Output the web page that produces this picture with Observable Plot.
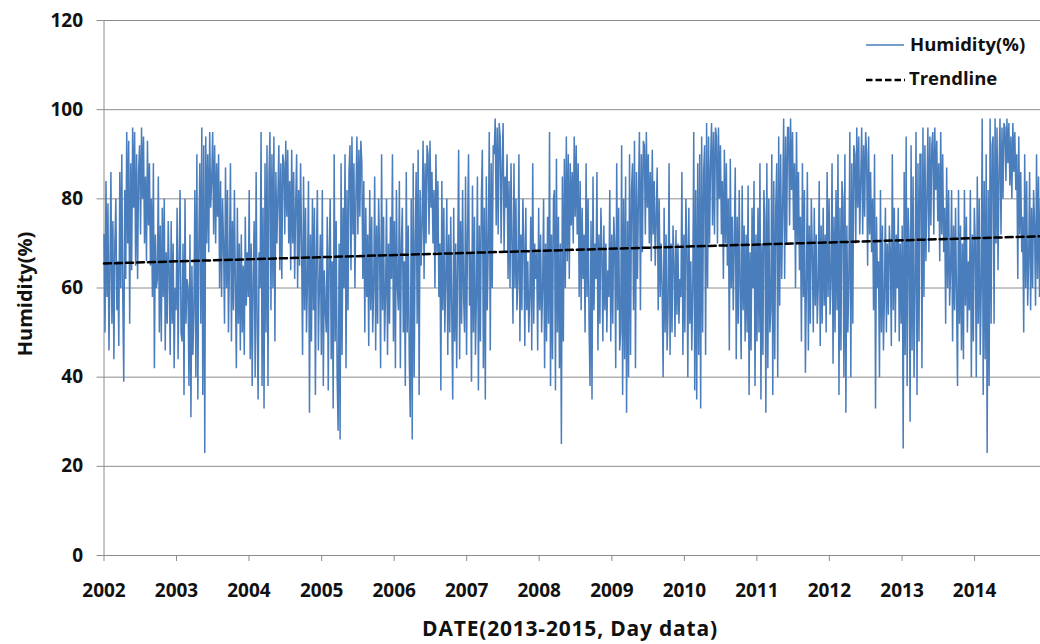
<!DOCTYPE html>
<html><head><meta charset="utf-8">
<script src="https://cdn.jsdelivr.net/npm/d3@7"></script>
<script src="https://cdn.jsdelivr.net/npm/@observablehq/plot@0.6"></script>
<style>
html,body{margin:0;padding:0;background:#fff;}
#wrap{position:relative;width:1040px;height:644px;overflow:hidden;}
#overlay{position:absolute;left:0;top:0;pointer-events:none;}
</style></head><body>
<div id="wrap"></div>
<script>
// Humidity (%), about 6 readings per month (Dec: 7)
const h2002 = [72,50,84,58,79,46, 63,86,52,75,44,70, 80,55,66,47,86,60, 90,58,39,82,62,95, 70,93,52,88,64,96, 78,95,65,90,62,86,
  92,72,96,80,94,70, 85,66,93,74,88,65, 80,58,88,42,72,60, 62,85,50,74,48,78, 58,80,46,68,52,75, 64,45,75,52,70,42,60];
const h2003 = [55,78,44,66,82,50, 48,70,36,80,52,62, 60,38,72,31,65,45, 55,82,40,90,35,70, 88,52,96,36,92,23, 94,70,90,68,95,78,
  84,95,72,92,70,88, 76,90,60,84,58,80, 70,52,87,60,82,50, 66,88,48,75,55,82, 60,42,78,52,70,46, 72,50,65,45,76,56,68];
const h2004 = [58,82,44,70,38,62, 75,40,86,52,35,68, 60,95,38,78,33,88, 50,92,38,85,95,55, 90,60,94,48,86,70, 80,92,64,88,62,90,
  88,72,93,76,91,70, 84,64,91,70,86,62, 78,90,60,82,65,88, 70,45,85,55,78,50, 62,84,32,72,48,80, 55,78,36,68,82,46,60];
const h2005 = [72,45,82,38,64,55, 50,76,37,68,80,44, 66,33,90,48,75,40, 28,70,26,88,45,78, 60,90,42,82,55,86, 92,64,94,72,88,60,
  80,94,72,91,76,93, 88,62,84,50,78,58, 72,47,82,55,76,50, 60,85,46,74,52,80, 68,42,90,55,76,48, 58,80,45,70,52,76,62];
const h2006 = [90,48,75,42,82,60, 55,84,42,70,78,50, 66,38,86,50,74,44, 31,80,26,88,40,70, 86,52,91,36,82,65, 74,93,62,88,70,92,
  90,72,93,78,86,70, 82,60,90,68,84,58, 70,37,84,55,78,50, 62,80,45,72,50,76, 55,35,78,48,70,42, 66,91,44,75,52,82,58];
const h2007 = [50,85,45,72,90,56, 68,39,83,50,76,45, 58,85,37,74,48,80, 91,42,78,35,85,55, 70,95,46,88,60,92, 90,98,74,96,72,97,
  94,70,88,97,68,85, 78,90,62,84,60,88, 70,52,88,60,80,55, 62,90,48,72,55,80, 70,47,78,55,66,50, 58,76,46,88,52,70,62];
const h2008 = [68,46,78,55,72,50, 60,80,42,70,48,76, 52,95,38,72,44,80, 82,37,89,50,76,42, 70,25,85,48,89,60, 94,66,90,62,88,74,
  86,70,94,76,92,72, 88,58,84,55,78,62, 72,50,88,58,80,52, 38,75,35,85,55,70, 62,86,46,72,52,78, 68,48,74,55,70,50,64];
const h2009 = [58,82,48,72,52,76, 70,42,88,55,78,46, 50,92,36,80,44,85, 32,75,40,90,45,82, 88,55,93,42,86,62, 80,95,55,90,68,93,
  92,72,95,78,90,70, 86,66,91,72,84,65, 76,87,55,80,58,70, 60,40,78,50,72,46, 55,88,45,70,50,74, 66,49,73,54,70,52,62];
const h2010 = [58,86,45,72,50,80, 70,40,78,52,66,46, 60,95,37,82,35,88, 45,90,33,94,50,86, 92,45,97,60,94,70, 88,97,74,95,72,96,
  94,70,96,80,92,72, 84,62,91,70,88,65, 80,46,89,60,76,55, 70,87,44,76,52,82, 60,44,83,55,74,48, 72,50,83,36,68,46,78];
const h2011 = [60,84,38,72,48,78, 50,88,35,70,45,82, 76,32,88,42,80,50, 55,90,36,84,44,78, 88,40,94,56,90,62, 78,98,62,94,70,96,
  96,74,98,82,95,73, 88,60,95,70,86,64, 76,48,88,58,82,41, 60,86,46,74,52,80, 68,50,78,56,72,52, 60,84,47,74,52,78,56];
const h2012 = [72,50,86,58,80,54, 62,88,43,76,50,82, 55,90,36,78,46,84, 80,40,90,32,74,50, 62,95,40,88,52,92, 90,70,96,78,94,72,
  84,96,72,92,76,95, 90,65,94,72,86,68, 80,55,90,33,76,60, 66,40,82,50,74,46, 58,78,50,70,54,74, 68,47,90,55,78,50,72];
const h2013 = [60,78,48,70,52,74, 24,86,45,94,38,78, 70,30,92,46,85,40, 60,95,36,88,48,90, 90,42,96,58,92,66, 80,96,68,94,74,92,
  95,72,96,82,93,75, 88,66,95,72,90,68, 78,52,87,60,82,56, 64,82,48,74,55,78, 58,38,82,52,74,46, 70,44,82,56,76,50,66];
const h2014 = [55,82,40,72,48,78, 70,40,85,52,80,45, 60,98,36,84,44,90, 23,82,38,98,52,92, 94,52,98,70,96,64, 86,98,72,96,80,97,
  96,84,98,88,97,83, 94,80,97,86,95,82, 90,62,94,72,86,68, 76,50,90,60,84,56, 66,86,55,78,60,82, 74,56,90,62,85,58,80];

const trendValues = [65.5, 71.6];           // dashed linear trend, start and end
const yTicks = [0, 20, 40, 60, 80, 100, 120];
const yearTicks = [2002, 2003, 2004, 2005, 2006, 2007, 2008, 2009, 2010, 2011, 2012, 2013, 2014];
const seriesName = "Humidity(%)";
const trendName = "Trendline";
const xTitle = "DATE(2013-2015, Day data)";
const yTitle = "Humidity(%)";

const startDate = Date.UTC(2002, 0, 1);
const endDate = Date.UTC(2014, 10, 29);

const values = [h2002, h2003, h2004, h2005, h2006, h2007, h2008, h2009, h2010, h2011, h2012, h2013, h2014].flat();
const n = values.length;
const series = values.map((v, i) => ({date: new Date(startDate + i * (endDate - startDate) / (n - 1)), value: v}));
const trend = [{date: new Date(startDate), value: trendValues[0]}, {date: new Date(endDate), value: trendValues[1]}];

const gridColor = "#8c8c8c";
const chart = Plot.plot({
  width: 1040, height: 644,
  marginTop: 20, marginRight: 0, marginBottom: 89, marginLeft: 103.5,
  style: {fontFamily: "'Open Sans', sans-serif", fontSize: "19px", fontWeight: "700", color: "#111", background: "#fff"},
  x: {type: "utc", domain: [new Date(startDate), new Date(endDate)]},
  y: {domain: [0, 120]},
  marks: [
    Plot.ruleY(yTicks, {stroke: gridColor, strokeWidth: 1}),
    Plot.ruleX([new Date(startDate)], {stroke: gridColor, strokeWidth: 1}),
    Plot.lineY(series, {x: "date", y: "value", stroke: "#4a7dbb", strokeWidth: 1.5, strokeLinejoin: "miter", strokeMiterlimit: 2}),
    Plot.line(trend, {x: "date", y: "value", stroke: "#000", strokeWidth: 2.5, strokeDasharray: "7,4"}),
    Plot.axisY({ticks: yTicks, tickSize: 7, tickPadding: 14, label: null, stroke: gridColor, fill: "#111"}),
    Plot.axisX({ticks: yearTicks.map(y => new Date(Date.UTC(y, 0, 1))), tickFormat: d3.utcFormat("%Y"),
      tickSize: 6, tickPadding: 22, label: null, stroke: gridColor, fill: "#111"})
  ]
});
const wrap = document.getElementById("wrap");
wrap.appendChild(chart);

// titles and legend
const ns = "http://www.w3.org/2000/svg";
const ov = document.createElementNS(ns, "svg");
ov.setAttribute("id", "overlay");
ov.setAttribute("width", 1040); ov.setAttribute("height", 644);
ov.innerHTML = `
<g font-family="'Open Sans', sans-serif" font-weight="700" fill="#111">
  <text x="570" y="636" font-size="21" letter-spacing="0.8" text-anchor="middle">${xTitle}</text>
  <text transform="translate(32,294) rotate(-90)" font-size="20" text-anchor="middle">${yTitle}</text>
  <line x1="866" x2="904" y1="45" y2="45" stroke="#4a7dbb" stroke-width="1.3"/>
  <text x="910" y="51" font-size="18.5">${seriesName}</text>
  <line x1="866" x2="905" y1="80" y2="80" stroke="#000" stroke-width="2.5" stroke-dasharray="6.5,3"/>
  <text x="909" y="84.5" font-size="18.5">${trendName}</text>
</g>`;
wrap.appendChild(ov);
</script>
</body></html>
